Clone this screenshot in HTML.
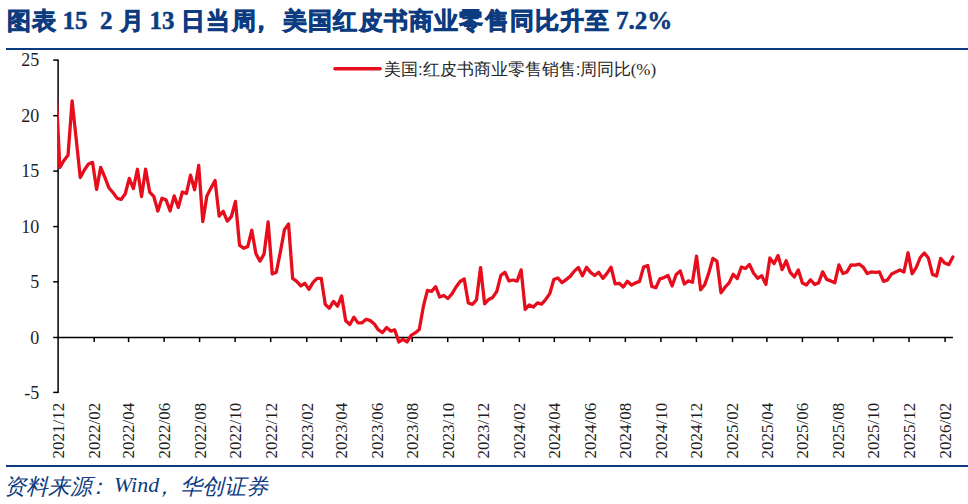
<!DOCTYPE html>
<html><head><meta charset="utf-8"><style>
html,body{margin:0;padding:0;background:#fff;}
body{width:968px;height:504px;position:relative;overflow:hidden;font-family:"Liberation Sans",sans-serif;}
.t span{position:absolute;top:4.5px;font:bold 24px "Liberation Sans",sans-serif;color:#0d3b80;white-space:pre;letter-spacing:var(--ls,0px);-webkit-text-stroke:0.8px #0d3b80;}
.t .n{font-family:"Liberation Serif",serif;font-size:25px;top:7px;-webkit-text-stroke:0.5px #0d3b80;}
.hl{position:absolute;left:6px;width:962px;height:2px;background:#0d3b80;}
.s span{position:absolute;top:472px;font:italic 22px "Liberation Sans",sans-serif;color:#0d3b80;white-space:pre;letter-spacing:var(--ls,0px);}
.s .n{font-family:"Liberation Serif",serif;}
svg{position:absolute;left:0;top:0;}
</style></head><body>
<div class="t">
<span style="left:6.5px;--ls:1.5px">图表</span><span class="n" style="left:62.5px">15</span><span class="n" style="left:100px">2</span><span style="left:120px">月</span><span class="n" style="left:149.5px">13</span><span style="left:180.5px;--ls:1.6px">日当周</span><span style="left:249px">，</span><span style="left:283px;--ls:1.2px">美国红皮书商业零售同比升至</span><span class="n" style="left:616px">7.2%</span>
</div>
<div class="hl" style="top:48px"></div>
<svg width="968" height="504" viewBox="0 0 968 504">
<g font-family="Liberation Serif" font-size="17" fill="#1e1e1e"><text x="39.3" y="66.40" text-anchor="end" font-size="18">25</text><text x="39.3" y="122.00" text-anchor="end" font-size="18">20</text><text x="39.3" y="177.40" text-anchor="end" font-size="18">15</text><text x="39.3" y="232.90" text-anchor="end" font-size="18">10</text><text x="39.3" y="288.10" text-anchor="end" font-size="18">5</text><text x="39.3" y="343.80" text-anchor="end" font-size="18">0</text><text x="39.3" y="398.70" text-anchor="end" font-size="18">-5</text><text transform="translate(64.00,402.8) rotate(-90)" text-anchor="end">2021/12</text><text transform="translate(100.11,402.8) rotate(-90)" text-anchor="end">2022/02</text><text transform="translate(134.47,402.8) rotate(-90)" text-anchor="end">2022/04</text><text transform="translate(170.00,402.8) rotate(-90)" text-anchor="end">2022/06</text><text transform="translate(205.52,402.8) rotate(-90)" text-anchor="end">2022/08</text><text transform="translate(241.05,402.8) rotate(-90)" text-anchor="end">2022/10</text><text transform="translate(276.58,402.8) rotate(-90)" text-anchor="end">2022/12</text><text transform="translate(312.69,402.8) rotate(-90)" text-anchor="end">2023/02</text><text transform="translate(347.05,402.8) rotate(-90)" text-anchor="end">2023/04</text><text transform="translate(382.57,402.8) rotate(-90)" text-anchor="end">2023/06</text><text transform="translate(418.10,402.8) rotate(-90)" text-anchor="end">2023/08</text><text transform="translate(453.63,402.8) rotate(-90)" text-anchor="end">2023/10</text><text transform="translate(489.15,402.8) rotate(-90)" text-anchor="end">2023/12</text><text transform="translate(525.26,402.8) rotate(-90)" text-anchor="end">2024/02</text><text transform="translate(560.21,402.8) rotate(-90)" text-anchor="end">2024/04</text><text transform="translate(595.73,402.8) rotate(-90)" text-anchor="end">2024/06</text><text transform="translate(631.26,402.8) rotate(-90)" text-anchor="end">2024/08</text><text transform="translate(666.79,402.8) rotate(-90)" text-anchor="end">2024/10</text><text transform="translate(702.31,402.8) rotate(-90)" text-anchor="end">2024/12</text><text transform="translate(738.42,402.8) rotate(-90)" text-anchor="end">2025/02</text><text transform="translate(772.78,402.8) rotate(-90)" text-anchor="end">2025/04</text><text transform="translate(808.31,402.8) rotate(-90)" text-anchor="end">2025/06</text><text transform="translate(843.84,402.8) rotate(-90)" text-anchor="end">2025/08</text><text transform="translate(879.36,402.8) rotate(-90)" text-anchor="end">2025/10</text><text transform="translate(914.89,402.8) rotate(-90)" text-anchor="end">2025/12</text><text transform="translate(951.00,402.8) rotate(-90)" text-anchor="end">2026/02</text></g>
<g stroke="#000" stroke-width="1.5" stroke-linecap="butt">
<line x1="58.1" y1="59.4" x2="58.1" y2="393.1"/>
<line x1="57.4" y1="337.5" x2="952.9" y2="337.5"/>
<line x1="53.2" y1="60.10" x2="58.1" y2="60.10"/><line x1="53.2" y1="115.70" x2="58.1" y2="115.70"/><line x1="53.2" y1="171.10" x2="58.1" y2="171.10"/><line x1="53.2" y1="226.60" x2="58.1" y2="226.60"/><line x1="53.2" y1="281.80" x2="58.1" y2="281.80"/><line x1="53.2" y1="337.50" x2="58.1" y2="337.50"/><line x1="53.2" y1="392.40" x2="58.1" y2="392.40"/><line x1="94.21" y1="337.5" x2="94.21" y2="342.10"/><line x1="128.57" y1="337.5" x2="128.57" y2="342.10"/><line x1="164.10" y1="337.5" x2="164.10" y2="342.10"/><line x1="199.62" y1="337.5" x2="199.62" y2="342.10"/><line x1="235.15" y1="337.5" x2="235.15" y2="342.10"/><line x1="270.68" y1="337.5" x2="270.68" y2="342.10"/><line x1="306.79" y1="337.5" x2="306.79" y2="342.10"/><line x1="341.15" y1="337.5" x2="341.15" y2="342.10"/><line x1="376.67" y1="337.5" x2="376.67" y2="342.10"/><line x1="412.20" y1="337.5" x2="412.20" y2="342.10"/><line x1="447.73" y1="337.5" x2="447.73" y2="342.10"/><line x1="483.25" y1="337.5" x2="483.25" y2="342.10"/><line x1="519.36" y1="337.5" x2="519.36" y2="342.10"/><line x1="554.31" y1="337.5" x2="554.31" y2="342.10"/><line x1="589.83" y1="337.5" x2="589.83" y2="342.10"/><line x1="625.36" y1="337.5" x2="625.36" y2="342.10"/><line x1="660.89" y1="337.5" x2="660.89" y2="342.10"/><line x1="696.41" y1="337.5" x2="696.41" y2="342.10"/><line x1="732.52" y1="337.5" x2="732.52" y2="342.10"/><line x1="766.88" y1="337.5" x2="766.88" y2="342.10"/><line x1="802.41" y1="337.5" x2="802.41" y2="342.10"/><line x1="837.94" y1="337.5" x2="837.94" y2="342.10"/><line x1="873.46" y1="337.5" x2="873.46" y2="342.10"/><line x1="908.99" y1="337.5" x2="908.99" y2="342.10"/><line x1="945.10" y1="337.5" x2="945.10" y2="342.10"/>
</g>
<defs><clipPath id="c"><rect x="58.0" y="40" width="900" height="360"/></clipPath></defs>
<path d="M55.77,84.20 L59.85,167.51 L63.93,160.52 L68.02,155.30 L72.10,100.89 L76.18,138.88 L80.27,177.54 L84.35,169.95 L88.44,163.96 L92.52,162.36 L96.60,189.41 L100.69,167.35 L104.77,177.05 L108.86,187.70 L112.94,192.48 L117.03,198.13 L121.11,199.51 L125.19,194.03 L129.28,178.45 L133.36,188.64 L137.45,169.24 L141.53,196.51 L145.61,169.24 L149.70,192.03 L153.78,196.47 L157.87,210.94 L161.95,198.31 L166.04,199.91 L170.12,210.94 L174.20,195.87 L178.29,207.50 L182.37,192.03 L186.46,193.47 L190.54,175.23 L194.62,189.75 L198.71,165.47 L202.79,221.59 L206.88,195.92 L210.96,187.93 L215.05,180.45 L219.13,216.15 L223.21,211.29 L227.30,221.15 L231.38,216.55 L235.46,201.42 L239.55,245.07 L243.63,248.22 L247.72,246.62 L251.80,230.27 L255.88,253.61 L259.97,261.09 L264.05,254.06 L268.14,221.95 L272.22,273.85 L276.30,272.26 L280.39,251.84 L284.47,229.65 L288.56,224.06 L292.64,278.36 L296.72,281.35 L300.81,285.95 L304.89,283.31 L308.98,289.39 L313.06,282.35 L317.14,278.36 L321.23,278.36 L325.31,304.54 L329.40,308.14 L333.48,301.39 L337.56,306.14 L341.65,295.96 L345.73,320.86 L349.82,324.45 L353.90,317.26 L357.99,322.85 L362.08,322.85 L366.16,319.26 L370.25,320.63 L374.33,323.96 L378.42,329.95 L382.50,332.55 L386.59,327.58 L390.68,331.11 L394.76,329.91 L398.85,341.98 L402.93,339.34 L407.02,341.98 L411.10,335.39 L415.19,332.95 L419.28,329.51 L423.36,306.43 L427.45,290.41 L431.53,291.50 L435.62,286.64 L439.70,297.04 L443.79,295.51 L447.87,298.49 L451.96,293.89 L456.05,287.01 L460.13,281.47 L464.22,278.98 L468.30,302.88 L472.39,304.32 L476.47,299.88 L480.56,267.55 L484.62,303.92 L488.68,299.44 L492.74,297.44 L496.79,291.34 L500.85,275.36 L504.91,272.21 L508.97,280.95 L513.03,279.98 L517.09,281.07 L521.15,269.88 L525.20,309.47 L529.29,304.94 L533.38,307.03 L537.47,302.95 L541.56,304.14 L545.65,299.55 L549.74,293.67 L553.83,279.58 L557.91,277.98 L562.00,282.62 L566.09,279.58 L570.18,276.36 L574.27,271.15 L578.36,267.44 L582.45,275.85 L586.54,267.22 L590.62,272.37 L594.71,275.52 L598.80,272.32 L602.89,278.40 L606.98,273.37 L611.07,267.22 L615.14,283.91 L619.21,283.35 L623.28,286.95 L627.35,281.31 L631.42,284.95 L635.49,282.91 L639.56,281.35 L643.63,267.04 L647.70,265.44 L651.76,286.35 L655.83,287.79 L659.90,278.91 L663.97,277.58 L668.04,275.54 L672.11,285.95 L676.18,274.47 L680.25,270.88 L684.32,283.95 L688.39,280.91 L692.46,282.24 L696.53,256.23 L700.61,289.83 L704.69,284.68 L708.76,273.14 L712.84,258.45 L716.92,261.05 L720.99,292.83 L725.07,287.24 L729.15,282.91 L733.22,274.32 L737.30,278.51 L741.38,267.04 L745.45,268.48 L749.53,264.44 L753.61,273.25 L757.68,278.29 L761.76,275.76 L765.84,284.39 L769.91,258.01 L773.99,263.64 L778.07,255.46 L782.12,269.64 L786.18,260.78 L790.23,272.37 L794.28,276.96 L798.34,269.88 L802.39,282.91 L806.44,284.95 L810.50,279.76 L814.55,284.35 L818.61,282.91 L822.66,271.88 L826.71,279.36 L830.77,280.91 L834.82,282.73 L838.87,264.89 L842.93,273.52 L846.98,271.92 L851.04,264.82 L855.09,265.04 L859.14,264.16 L863.20,267.04 L867.25,273.52 L871.30,271.92 L875.36,272.37 L879.41,271.92 L883.47,281.35 L887.56,279.91 L891.65,273.92 L895.75,271.92 L899.84,269.99 L903.93,271.97 L908.03,252.79 L912.10,273.74 L916.18,267.60 L920.26,257.50 L924.33,253.02 L928.41,258.05 L932.49,274.36 L936.56,275.96 L940.64,258.45 L944.72,263.05 L948.79,264.64 L952.87,257.05" clip-path="url(#c)" stroke="#e60e1c" stroke-width="3.3" fill="none" stroke-linejoin="round" stroke-linecap="round"/>
<line x1="334.9" y1="68.8" x2="380.2" y2="68.8" stroke="#e60e1c" stroke-width="3.4" stroke-linecap="round"/>
<text x="384" y="74.8" font-family="Liberation Sans" font-size="17" fill="#262626">美国:红皮书商业零售销售:周同比<tspan font-family="Liberation Serif" dx="-0.8">(%)</tspan></text>
</svg>
<div class="hl" style="top:465px"></div>
<div class="s">
<span style="left:4px">资料来源</span><span style="left:87px">：</span><span class="n" style="left:114px">Wind</span><span style="left:152.5px">，</span><span style="left:180px">华创证券</span>
</div>
</body></html>
